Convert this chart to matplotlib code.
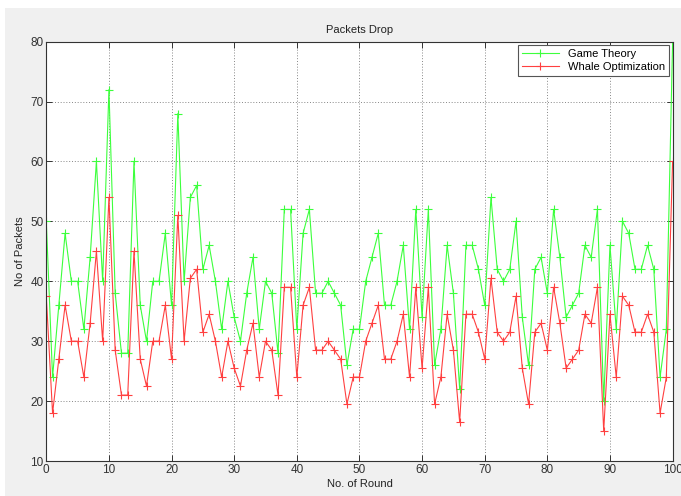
import matplotlib
matplotlib.use("Agg")
import matplotlib.pyplot as plt
from matplotlib.patches import Rectangle

plt.rcParams['font.family'] = ['Liberation Sans', 'DejaVu Sans']

# packets dropped per round
rounds = list(range(101))
game_theory = [50, 24, 36, 48, 40, 40, 32, 44, 60, 40,
               72, 38, 28, 28, 60, 36, 30, 40, 40, 48,
               36, 68, 40, 54, 56, 42, 46, 40, 32, 40,
               34, 30, 38, 44, 32, 40, 38, 28, 52, 52,
               32, 48, 52, 38, 38, 40, 38, 36, 26, 32,
               32, 40, 44, 48, 36, 36, 40, 46, 32, 52,
               34, 52, 26, 32, 46, 38, 22, 46, 46, 42,
               36, 54, 42, 40, 42, 50, 34, 26, 42, 44,
               38, 52, 44, 34, 36, 38, 46, 44, 52, 20,
               46, 32, 50, 48, 42, 42, 46, 42, 24, 32,
               80]
whale_opt = [37.5, 18, 27, 36, 30, 30, 24, 33, 45, 30,
             54, 28.5, 21, 21, 45, 27, 22.5, 30, 30, 36,
             27, 51, 30, 40.5, 42, 31.5, 34.5, 30, 24, 30,
             25.5, 22.5, 28.5, 33, 24, 30, 28.5, 21, 39, 39,
             24, 36, 39, 28.5, 28.5, 30, 28.5, 27, 19.5, 24,
             24, 30, 33, 36, 27, 27, 30, 34.5, 24, 39,
             25.5, 39, 19.5, 24, 34.5, 28.5, 16.5, 34.5, 34.5, 31.5,
             27, 40.5, 31.5, 30, 31.5, 37.5, 25.5, 19.5, 31.5, 33,
             28.5, 39, 33, 25.5, 27, 28.5, 34.5, 33, 39, 15,
             34.5, 24, 37.5, 36, 31.5, 31.5, 34.5, 31.5, 18, 24,
             60]

fig = plt.figure(figsize=(6.81, 4.96), dpi=100, facecolor='#f0f0f0')
# white strips left by the screenshot
fig.patches.append(Rectangle((0, 1 - 8/496), 1, 8/496, transform=fig.transFigure,
                             facecolor='white', edgecolor='none', zorder=0))
fig.patches.append(Rectangle((0, 0), 5/681, 1, transform=fig.transFigure,
                             facecolor='white', edgecolor='none', zorder=0))

ax = fig.add_axes([46.3/681, 1 - 461/496, 626.3/681, 419.3/496])
ax.set_facecolor('white')

ax.plot(rounds, game_theory, color='#3cff3c', lw=0.8, marker='+', ms=6, mew=0.8,
        label='Game Theory')
ax.plot(rounds, whale_opt, color='#ff4040', lw=0.8, marker='+', ms=6, mew=0.8,
        label='Whale Optimization')

ax.set_xlim(0, 100)
ax.set_ylim(10, 80)
ax.set_xticks(range(0, 101, 10))
ax.set_yticks(range(10, 81, 10))
ax.grid(True, linestyle=(0, (1.2, 2.2)), color='#777777', lw=0.6)
ax.tick_params(direction='in', top=True, right=True, length=4, width=0.7,
               labelsize=8.5, colors='#333333', pad=2)
for s in ax.spines.values():
    s.set_color('#333333')
    s.set_linewidth(0.8)

ax.set_title('Packets Drop', fontsize=8, color='#222222', pad=6)
ax.set_xlabel('No. of Round', fontsize=8, color='#222222', labelpad=2)
ax.set_ylabel('No of Packets', fontsize=8, color='#222222', labelpad=4)

leg = ax.legend(loc='upper right', fontsize=8, frameon=True, fancybox=False,
                edgecolor='#555555', framealpha=1, borderpad=0.35,
                handlelength=3.4, labelspacing=0.3, borderaxespad=0.3)
leg.get_frame().set_linewidth(0.8)

fig.savefig('out.png', dpi=100, facecolor=fig.get_facecolor())
